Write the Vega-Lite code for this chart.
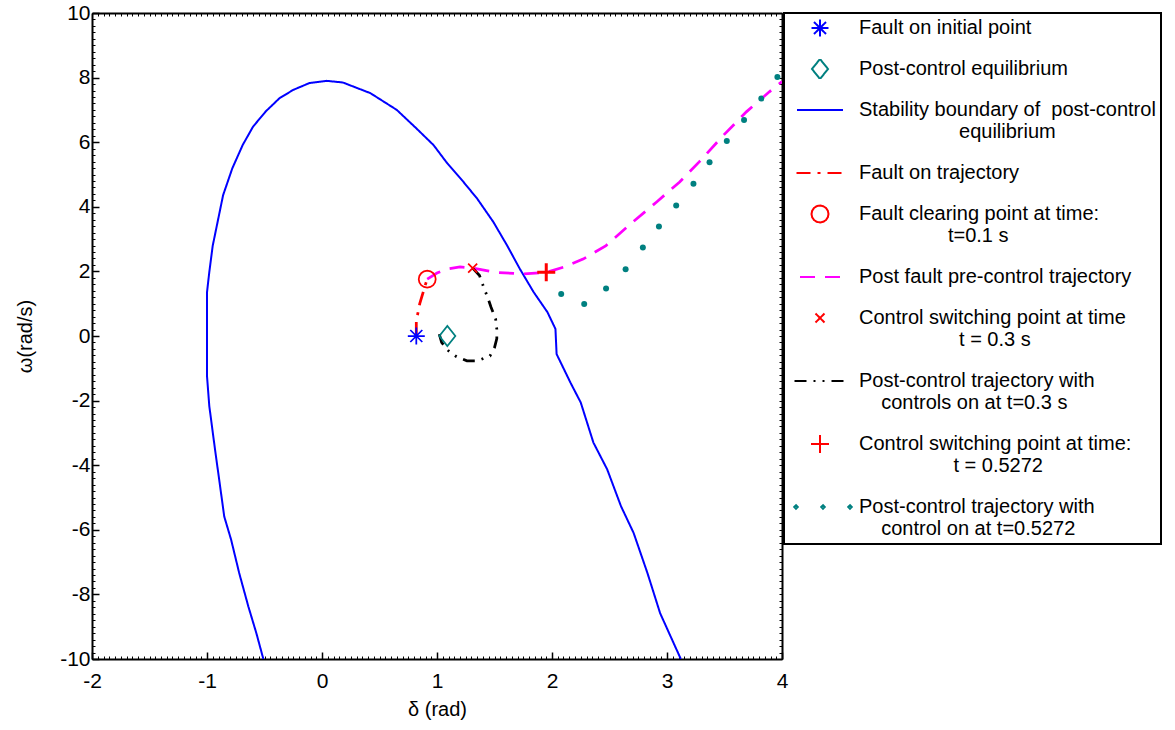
{
  "$schema": "https://vega.github.io/schema/vega-lite/v6.json",
  "width": 690,
  "height": 646,
  "autosize": {"type": "none"},
  "padding": {"left": 92, "top": 13, "right": 393, "bottom": 71},
  "background": "white",
  "config": {
    "font": "Liberation Sans",
    "view": {"stroke": null},
    "axis": {
      "grid": false, "domainColor": "black", "domainWidth": 2, "tickColor": "black",
      "labelColor": "black", "titleColor": "black", "labelFont": "Liberation Sans", "titleFont": "Liberation Sans",
      "labelFontSize": 21, "titleFontSize": 20, "titleFontWeight": "normal", "labelFlush": false, "labelOverlap": false
    },
    "legend": {
      "orient": "right", "offset": 1, "padding": 5, "strokeColor": "black", "strokeWidth": 2, "fillColor": "white",
      "cornerRadius": 0, "labelFont": "Liberation Sans", "labelFontSize": 20, "labelColor": "black", "labelLimit": 500,
      "labelOffset": 8, "rowPadding": 21, "clipHeight": 20, "symbolSize": 3600, "symbolStrokeWidth": 2,
      "symbolOpacity": 1, "symbolFillColor": "transparent", "labelBaseline": "middle"
    }
  },
  "data": {"values": [
    {"series": "Fault on initial point", "i": 1, "delta": 0.82, "omega": 0},
    {"series": "Post-control equilibrium", "i": 1, "delta": 1.09, "omega": 0},
    {"series": "Fault clearing point at time: t=0.1 s", "i": 1, "delta": 0.915, "omega": 1.76},
    {"series": "Control switching point at time t = 0.3 s", "i": 1, "delta": 1.31, "omega": 2.1},
    {"series": "Control switching point at time: t = 0.5272", "i": 1, "delta": 1.95, "omega": 1.97},

    {"series": "Stability boundary of  post-control equilibrium", "i": 1, "delta": -0.51, "omega": -10},
    {"series": "Stability boundary of  post-control equilibrium", "i": 2, "delta": -0.57, "omega": -9.21},
    {"series": "Stability boundary of  post-control equilibrium", "i": 3, "delta": -0.64, "omega": -8.38},
    {"series": "Stability boundary of  post-control equilibrium", "i": 4, "delta": -0.72, "omega": -7.34},
    {"series": "Stability boundary of  post-control equilibrium", "i": 5, "delta": -0.79, "omega": -6.31},
    {"series": "Stability boundary of  post-control equilibrium", "i": 6, "delta": -0.85, "omega": -5.59},
    {"series": "Stability boundary of  post-control equilibrium", "i": 7, "delta": -0.89, "omega": -4.55},
    {"series": "Stability boundary of  post-control equilibrium", "i": 8, "delta": -0.93, "omega": -3.52},
    {"series": "Stability boundary of  post-control equilibrium", "i": 9, "delta": -0.98, "omega": -2.17},
    {"series": "Stability boundary of  post-control equilibrium", "i": 10, "delta": -1.0, "omega": -1.24},
    {"series": "Stability boundary of  post-control equilibrium", "i": 11, "delta": -1.0, "omega": -0.1},
    {"series": "Stability boundary of  post-control equilibrium", "i": 12, "delta": -1.0, "omega": 1.35},
    {"series": "Stability boundary of  post-control equilibrium", "i": 13, "delta": -0.98, "omega": 1.98},
    {"series": "Stability boundary of  post-control equilibrium", "i": 14, "delta": -0.95, "omega": 2.8},
    {"series": "Stability boundary of  post-control equilibrium", "i": 15, "delta": -0.89, "omega": 3.84},
    {"series": "Stability boundary of  post-control equilibrium", "i": 16, "delta": -0.86, "omega": 4.36},
    {"series": "Stability boundary of  post-control equilibrium", "i": 17, "delta": -0.78, "omega": 5.19},
    {"series": "Stability boundary of  post-control equilibrium", "i": 18, "delta": -0.69, "omega": 5.91},
    {"series": "Stability boundary of  post-control equilibrium", "i": 19, "delta": -0.6, "omega": 6.48},
    {"series": "Stability boundary of  post-control equilibrium", "i": 20, "delta": -0.49, "omega": 6.95},
    {"series": "Stability boundary of  post-control equilibrium", "i": 21, "delta": -0.37, "omega": 7.36},
    {"series": "Stability boundary of  post-control equilibrium", "i": 22, "delta": -0.25, "omega": 7.62},
    {"series": "Stability boundary of  post-control equilibrium", "i": 23, "delta": -0.11, "omega": 7.83},
    {"series": "Stability boundary of  post-control equilibrium", "i": 24, "delta": 0.04, "omega": 7.9},
    {"series": "Stability boundary of  post-control equilibrium", "i": 25, "delta": 0.18, "omega": 7.85},
    {"series": "Stability boundary of  post-control equilibrium", "i": 26, "delta": 0.42, "omega": 7.52},
    {"series": "Stability boundary of  post-control equilibrium", "i": 27, "delta": 0.65, "omega": 7.0},
    {"series": "Stability boundary of  post-control equilibrium", "i": 28, "delta": 0.82, "omega": 6.43},
    {"series": "Stability boundary of  post-control equilibrium", "i": 29, "delta": 0.97, "omega": 5.91},
    {"series": "Stability boundary of  post-control equilibrium", "i": 30, "delta": 1.08, "omega": 5.39},
    {"series": "Stability boundary of  post-control equilibrium", "i": 31, "delta": 1.23, "omega": 4.77},
    {"series": "Stability boundary of  post-control equilibrium", "i": 32, "delta": 1.35, "omega": 4.25},
    {"series": "Stability boundary of  post-control equilibrium", "i": 33, "delta": 1.49, "omega": 3.53},
    {"series": "Stability boundary of  post-control equilibrium", "i": 34, "delta": 1.61, "omega": 2.8},
    {"series": "Stability boundary of  post-control equilibrium", "i": 35, "delta": 1.72, "omega": 2.08},
    {"series": "Stability boundary of  post-control equilibrium", "i": 36, "delta": 1.84, "omega": 1.36},
    {"series": "Stability boundary of  post-control equilibrium", "i": 37, "delta": 1.96, "omega": 0.74},
    {"series": "Stability boundary of  post-control equilibrium", "i": 38, "delta": 2.03, "omega": 0.22},
    {"series": "Stability boundary of  post-control equilibrium", "i": 39, "delta": 2.04, "omega": -0.56},
    {"series": "Stability boundary of  post-control equilibrium", "i": 40, "delta": 2.16, "omega": -1.44},
    {"series": "Stability boundary of  post-control equilibrium", "i": 41, "delta": 2.25, "omega": -2.06},
    {"series": "Stability boundary of  post-control equilibrium", "i": 42, "delta": 2.36, "omega": -3.3},
    {"series": "Stability boundary of  post-control equilibrium", "i": 43, "delta": 2.48, "omega": -4.13},
    {"series": "Stability boundary of  post-control equilibrium", "i": 44, "delta": 2.6, "omega": -5.27},
    {"series": "Stability boundary of  post-control equilibrium", "i": 45, "delta": 2.71, "omega": -6.1},
    {"series": "Stability boundary of  post-control equilibrium", "i": 46, "delta": 2.83, "omega": -7.34},
    {"series": "Stability boundary of  post-control equilibrium", "i": 47, "delta": 2.94, "omega": -8.58},
    {"series": "Stability boundary of  post-control equilibrium", "i": 48, "delta": 3.12, "omega": -10},

    {"series": "Fault on trajectory", "i": 1, "delta": 0.82, "omega": 0},
    {"series": "Fault on trajectory", "i": 2, "delta": 0.82, "omega": 0.47},
    {"series": "Fault on trajectory", "i": 3, "delta": 0.835, "omega": 0.73},
    {"series": "Fault on trajectory", "i": 4, "delta": 0.85, "omega": 1.0},
    {"series": "Fault on trajectory", "i": 5, "delta": 0.88, "omega": 1.36},
    {"series": "Fault on trajectory", "i": 6, "delta": 0.9, "omega": 1.6},
    {"series": "Fault on trajectory", "i": 7, "delta": 0.915, "omega": 1.76},

    {"series": "Post fault pre-control trajectory", "i": 1, "delta": 0.915, "omega": 1.76},
    {"series": "Post fault pre-control trajectory", "i": 2, "delta": 1.0, "omega": 1.95},
    {"series": "Post fault pre-control trajectory", "i": 3, "delta": 1.08, "omega": 2.07},
    {"series": "Post fault pre-control trajectory", "i": 4, "delta": 1.2, "omega": 2.14},
    {"series": "Post fault pre-control trajectory", "i": 5, "delta": 1.31, "omega": 2.1},
    {"series": "Post fault pre-control trajectory", "i": 6, "delta": 1.52, "omega": 1.97},
    {"series": "Post fault pre-control trajectory", "i": 7, "delta": 1.75, "omega": 1.92},
    {"series": "Post fault pre-control trajectory", "i": 8, "delta": 1.95, "omega": 1.97},
    {"series": "Post fault pre-control trajectory", "i": 9, "delta": 2.1, "omega": 2.13},
    {"series": "Post fault pre-control trajectory", "i": 10, "delta": 2.27, "omega": 2.38},
    {"series": "Post fault pre-control trajectory", "i": 11, "delta": 2.47, "omega": 2.8},
    {"series": "Post fault pre-control trajectory", "i": 12, "delta": 2.7, "omega": 3.52},
    {"series": "Post fault pre-control trajectory", "i": 13, "delta": 2.91, "omega": 4.15},
    {"series": "Post fault pre-control trajectory", "i": 14, "delta": 3.11, "omega": 4.77},
    {"series": "Post fault pre-control trajectory", "i": 15, "delta": 3.28, "omega": 5.39},
    {"series": "Post fault pre-control trajectory", "i": 16, "delta": 3.49, "omega": 6.21},
    {"series": "Post fault pre-control trajectory", "i": 17, "delta": 3.69, "omega": 6.94},
    {"series": "Post fault pre-control trajectory", "i": 18, "delta": 3.89, "omega": 7.56},
    {"series": "Post fault pre-control trajectory", "i": 19, "delta": 4.0, "omega": 7.88},

    {"series": "Post-control trajectory with controls on at t=0.3 s", "i": 1, "delta": 1.31, "omega": 2.1},
    {"series": "Post-control trajectory with controls on at t=0.3 s", "i": 2, "delta": 1.37, "omega": 1.87},
    {"series": "Post-control trajectory with controls on at t=0.3 s", "i": 3, "delta": 1.41, "omega": 1.47},
    {"series": "Post-control trajectory with controls on at t=0.3 s", "i": 4, "delta": 1.44, "omega": 1.2},
    {"series": "Post-control trajectory with controls on at t=0.3 s", "i": 5, "delta": 1.47, "omega": 0.89},
    {"series": "Post-control trajectory with controls on at t=0.3 s", "i": 6, "delta": 1.51, "omega": 0.52},
    {"series": "Post-control trajectory with controls on at t=0.3 s", "i": 7, "delta": 1.52, "omega": 0.21},
    {"series": "Post-control trajectory with controls on at t=0.3 s", "i": 8, "delta": 1.52, "omega": -0.08},
    {"series": "Post-control trajectory with controls on at t=0.3 s", "i": 9, "delta": 1.5, "omega": -0.36},
    {"series": "Post-control trajectory with controls on at t=0.3 s", "i": 10, "delta": 1.46, "omega": -0.62},
    {"series": "Post-control trajectory with controls on at t=0.3 s", "i": 11, "delta": 1.35, "omega": -0.77},
    {"series": "Post-control trajectory with controls on at t=0.3 s", "i": 12, "delta": 1.26, "omega": -0.77},
    {"series": "Post-control trajectory with controls on at t=0.3 s", "i": 13, "delta": 1.17, "omega": -0.64},
    {"series": "Post-control trajectory with controls on at t=0.3 s", "i": 14, "delta": 1.1, "omega": -0.46},
    {"series": "Post-control trajectory with controls on at t=0.3 s", "i": 15, "delta": 1.04, "omega": -0.2},
    {"series": "Post-control trajectory with controls on at t=0.3 s", "i": 16, "delta": 1.02, "omega": 0.06},

    {"series": "Post-control trajectory with control on at t=0.5272", "i": 1, "delta": 2.08, "omega": 1.3},
    {"series": "Post-control trajectory with control on at t=0.5272", "i": 2, "delta": 2.28, "omega": 0.99},
    {"series": "Post-control trajectory with control on at t=0.5272", "i": 3, "delta": 2.47, "omega": 1.47},
    {"series": "Post-control trajectory with control on at t=0.5272", "i": 4, "delta": 2.64, "omega": 2.07},
    {"series": "Post-control trajectory with control on at t=0.5272", "i": 5, "delta": 2.79, "omega": 2.74},
    {"series": "Post-control trajectory with control on at t=0.5272", "i": 6, "delta": 2.93, "omega": 3.39},
    {"series": "Post-control trajectory with control on at t=0.5272", "i": 7, "delta": 3.08, "omega": 4.04},
    {"series": "Post-control trajectory with control on at t=0.5272", "i": 8, "delta": 3.23, "omega": 4.71},
    {"series": "Post-control trajectory with control on at t=0.5272", "i": 9, "delta": 3.37, "omega": 5.38},
    {"series": "Post-control trajectory with control on at t=0.5272", "i": 10, "delta": 3.52, "omega": 6.04},
    {"series": "Post-control trajectory with control on at t=0.5272", "i": 11, "delta": 3.67, "omega": 6.69},
    {"series": "Post-control trajectory with control on at t=0.5272", "i": 12, "delta": 3.82, "omega": 7.35},
    {"series": "Post-control trajectory with control on at t=0.5272", "i": 13, "delta": 3.96, "omega": 8.02}
  ]},
  "layer": [
    {
      "transform": [{"filter": {"field": "series", "oneOf": ["Stability boundary of  post-control equilibrium"]}}],
      "mark": {"type": "line", "strokeWidth": 2, "clip": true},
      "encoding": {
        "x": {"field": "delta", "type": "quantitative",
          "scale": {"domain": [-2, 4], "nice": false, "zero": false},
          "axis": {"orient": "bottom", "values": [-2, -1, 0, 1, 2, 3, 4], "title": "δ (rad)", "tickSize": -7, "tickWidth": 1.5, "labelPadding": 18, "titlePadding": 8, "labelExpr": "replace(datum.label, '\u2212', '-')"}},
        "y": {"field": "omega", "type": "quantitative",
          "scale": {"domain": [-10, 10], "nice": false, "zero": false},
          "axis": {"orient": "left", "values": [-10, -8, -6, -4, -2, 0, 2, 4, 6, 8, 10], "title": "ω(rad/s)", "tickSize": -7, "tickWidth": 1.5, "labelPadding": 9, "titlePadding": 24, "labelExpr": "replace(datum.label, '\u2212', '-')"}},
        "order": {"field": "i", "type": "quantitative"},
        "color": {"field": "series", "type": "nominal",
          "scale": {
            "domain": ["Fault on initial point", "Post-control equilibrium", "Stability boundary of  post-control equilibrium", "Fault on trajectory", "Fault clearing point at time: t=0.1 s", "Post fault pre-control trajectory", "Control switching point at time t = 0.3 s", "Post-control trajectory with controls on at t=0.3 s", "Control switching point at time: t = 0.5272", "Post-control trajectory with control on at t=0.5272"],
            "range": ["#0000ff", "#008080", "#0000ff", "#ff0000", "#ff0000", "#ff00ff", "#ff0000", "#000000", "#ff0000", "#008080"]
          },
          "legend": {
            "title": null,
            "labelExpr": "datum.label == 'Stability boundary of  post-control equilibrium' ? ['Stability boundary of\u00a0 post-control', '\u200b\u00a0\u00a0\u00a0\u00a0\u00a0\u00a0\u00a0\u00a0\u00a0\u00a0\u00a0\u00a0\u00a0\u00a0\u00a0\u00a0\u00a0\u00a0equilibrium'] : datum.label == 'Fault clearing point at time: t=0.1 s' ? ['Fault clearing point at time:', '\u200b\u00a0\u00a0\u00a0\u00a0\u00a0\u00a0\u00a0\u00a0\u00a0\u00a0\u00a0\u00a0\u00a0\u00a0\u00a0\u00a0t=0.1 s'] : datum.label == 'Control switching point at time t = 0.3 s' ? ['Control switching point at time', '\u200b\u00a0\u00a0\u00a0\u00a0\u00a0\u00a0\u00a0\u00a0\u00a0\u00a0\u00a0\u00a0\u00a0\u00a0\u00a0\u00a0\u00a0\u00a0t = 0.3 s'] : datum.label == 'Post-control trajectory with controls on at t=0.3 s' ? ['Post-control trajectory with', '\u200b\u00a0\u00a0\u00a0\u00a0controls on at t=0.3 s'] : datum.label == 'Control switching point at time: t = 0.5272' ? ['Control switching point at time:', '\u200b\u00a0\u00a0\u00a0\u00a0\u00a0\u00a0\u00a0\u00a0\u00a0\u00a0\u00a0\u00a0\u00a0\u00a0\u00a0\u00a0\u00a0t = 0.5272'] : datum.label == 'Post-control trajectory with control on at t=0.5272' ? ['Post-control trajectory with', '\u200b\u00a0\u00a0\u00a0\u00a0control on at t=0.5272'] : datum.label"
          }
        },
        "strokeDash": {"field": "series", "type": "nominal",
          "scale": {
            "domain": ["Fault on initial point", "Post-control equilibrium", "Stability boundary of  post-control equilibrium", "Fault on trajectory", "Fault clearing point at time: t=0.1 s", "Post fault pre-control trajectory", "Control switching point at time t = 0.3 s", "Post-control trajectory with controls on at t=0.3 s", "Control switching point at time: t = 0.5272", "Post-control trajectory with control on at t=0.5272"],
            "range": [[1, 0], [1, 0], [1, 0], [14, 7, 3, 7], [1, 0], [15, 10], [1, 0], [12, 7, 2, 7, 2, 7], [1, 0], [1, 0]]
          },
          "legend": {"title": null}
        }
      }
    },
    {
      "transform": [{"filter": {"field": "series", "oneOf": ["Fault on trajectory", "Post fault pre-control trajectory", "Post-control trajectory with controls on at t=0.3 s"]}}],
      "mark": {"type": "line", "strokeWidth": 2.75, "clip": true},
      "encoding": {
        "x": {"field": "delta", "type": "quantitative",
          "axis": {"orient": "top", "tickCount": 120, "labels": false, "title": null, "tickSize": -3, "tickWidth": 1}},
        "y": {"field": "omega", "type": "quantitative",
          "axis": {"orient": "right", "tickCount": 100, "labels": false, "title": null, "tickSize": -3, "tickWidth": 1}},
        "order": {"field": "i", "type": "quantitative"},
        "color": {"field": "series", "type": "nominal", "legend": {"title": null}},
        "strokeDash": {"field": "series", "type": "nominal", "legend": {"title": null}}
      }
    },
    {
      "transform": [{"filter": {"field": "series", "oneOf": ["Post-control trajectory with control on at t=0.5272"]}}],
      "mark": {"type": "point", "shape": "circle", "filled": true, "size": 36, "color": "#008080", "opacity": 1, "clip": true},
      "encoding": {
        "x": {"field": "delta", "type": "quantitative",
          "axis": {"orient": "bottom", "tickCount": 120, "labels": false, "title": null, "domain": false, "tickSize": -3, "tickWidth": 1}},
        "y": {"field": "omega", "type": "quantitative",
          "axis": {"orient": "left", "tickCount": 100, "labels": false, "title": null, "domain": false, "tickSize": -3, "tickWidth": 1}}
      }
    },
    {
      "transform": [{"filter": {"field": "series", "oneOf": ["Fault on initial point", "Post-control equilibrium", "Fault clearing point at time: t=0.1 s", "Control switching point at time t = 0.3 s"]}}],
      "mark": {"type": "point", "filled": false, "size": 3600, "strokeWidth": 1.75, "opacity": 1, "clip": true},
      "encoding": {
        "x": {"field": "delta", "type": "quantitative", "axis": null},
        "y": {"field": "omega", "type": "quantitative", "axis": null},
        "color": {"field": "series", "type": "nominal", "legend": {"title": null}},
        "shape": {"field": "series", "type": "nominal",
          "scale": {
            "domain": ["Fault on initial point", "Post-control equilibrium", "Stability boundary of  post-control equilibrium", "Fault on trajectory", "Fault clearing point at time: t=0.1 s", "Post fault pre-control trajectory", "Control switching point at time t = 0.3 s", "Post-control trajectory with controls on at t=0.3 s", "Control switching point at time: t = 0.5272", "Post-control trajectory with control on at t=0.5272"],
            "range": [
              "M0,-0.283L0,0.283M-0.283,0L0.283,0M-0.2,-0.2L0.2,0.2M-0.2,0.2L0.2,-0.2",
              "M-0.267,0L0,-0.333L0.267,0L0,0.333Z",
              "M-0.767,0L0.767,0",
              "M-0.783,0L0.783,0",
              "M0.283,0L0.261,0.108L0.2,0.2L0.108,0.261L0,0.283L-0.108,0.261L-0.2,0.2L-0.261,0.108L-0.283,0L-0.261,-0.108L-0.2,-0.2L-0.108,-0.261L0,-0.283L0.108,-0.261L0.2,-0.2L0.261,-0.108Z",
              "M-0.667,0L0.667,0",
              "M-0.15,-0.15L0.15,0.15M-0.15,0.15L0.15,-0.15",
              "M-0.85,0L0.85,0",
              "M-0.3,0L0.3,0M0,-0.3L0,0.3",
              "M-0.86,0L-0.8,-0.06L-0.74,0L-0.8,0.06ZM0.04,0L0.1,-0.06L0.16,0L0.1,0.06ZM0.94,0L1,-0.06L1.06,0L1,0.06Z"
            ]
          },
          "legend": {"title": null}
        }
      }
    },
    {
      "transform": [{"filter": {"field": "series", "oneOf": ["Control switching point at time: t = 0.5272"]}}],
      "mark": {"type": "point", "filled": false, "size": 3600, "strokeWidth": 3, "opacity": 1, "clip": true},
      "encoding": {
        "x": {"field": "delta", "type": "quantitative", "axis": null},
        "y": {"field": "omega", "type": "quantitative", "axis": null},
        "color": {"field": "series", "type": "nominal", "legend": {"title": null}},
        "shape": {"field": "series", "type": "nominal", "legend": {"title": null}}
      }
    }
  ],
  "resolve": {"axis": {"x": "independent", "y": "independent"}}
}
